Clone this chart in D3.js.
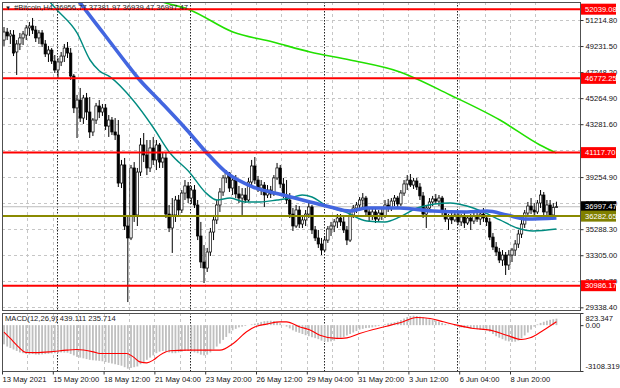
<!DOCTYPE html>
<html>
<head>
<meta charset="utf-8">
<script src="https://cdn.jsdelivr.net/npm/d3@7"></script>
<style>
  html, body { margin: 0; padding: 0; background: #fff; }
  svg { display: block; font-family: "Liberation Sans", Arial, sans-serif; }
</style>
</head>
<body>
<div id="chart"></div>
<script>
// ---- data (BTC H4, 13 May - 10 Jun 2021) ----
const timeLabels = ['13 May 2021', '15 May 20:00', '18 May 12:00', '21 May 04:00', '23 May 20:00',
  '26 May 12:00', '29 May 04:00', '31 May 20:00', '3 Jun 12:00', '6 Jun 04:00', '8 Jun 20:00'];
const timeLabelBars = [0, 16, 32, 48, 64, 80, 96, 112, 128, 144, 160];
const separatorBars = [17, 59, 101, 143];

const priceTicks = [51214.80, 49231.50, 47248.20, 45264.90, 43281.60, 41298.30, 39254.90,
  37271.60, 35288.30, 33305.00, 31321.70, 29338.40];
const redLevels = [52039.08, 46772.25, 41117.70, 30986.17];
const oliveLevel = 36282.65;
const lastPrice = 36997.47;

// [open, high, low, close]
const candles = [
  [49690,50680,49240,50300],[50300,50610,49690,50000],[50000,50450,49390,50150],[50070,50450,48470,48700],
  [48780,49690,47030,49390],[49390,50230,48930,49850],[49850,50380,49310,50150],[50070,50830,49690,50610],
  [50610,51060,50000,50760],[50760,51370,50150,50450],[50450,50760,49540,49850],[49850,50450,49390,50230],
  [50230,50450,49160,49390],[49390,49690,48400,48630],[48630,49240,48020,48930],[48930,49080,47870,48090],
  [48090,48550,47180,47410],[47410,48320,46800,48020],[48020,48780,47710,48470],[48470,49390,48020,49080],
  [49080,49540,48320,48700],[48700,49080,46650,46950],[46950,47100,44130,44520],[44520,45510,42230,45120],
  [45120,46040,43450,43750],[43750,45510,43300,45280],[45280,45660,43600,44210],[44210,45350,42230,42690],
  [42690,43750,42380,43600],[43600,44900,43300,44670],[44670,45120,43750,44210],[44210,44820,43910,44520],
  [44520,44820,42840,43140],[43140,43980,42310,43600],[43600,43830,42460,42690],[42690,43750,42080,42460],
  [42460,43600,38500,38800],[38800,40560,38420,40180],[40180,40710,35230,35530],[35530,36370,29740,34620],
  [34620,40180,34460,39950],[39950,40400,35840,36370],[36370,39950,35530,39640],[39640,42230,39340,41700],
  [41700,42610,40400,40940],[40940,42080,39410,39950],[39950,42080,39640,41470],[41470,42310,40180,40560],
  [40560,42080,39790,41700],[41700,41850,39950,40400],[40400,41170,39950,40710],[40710,41090,36140,36440],
  [36440,37130,35070,35380],[35380,37660,33480,36370],[36370,37820,35840,37510],[37510,37890,36370,36750],
  [36750,38270,36520,38040],[38040,39030,37510,38580],[38580,38880,37280,37660],[37660,38580,37210,38270],
  [38270,38650,36900,37130],[37130,37510,34460,34770],[34770,35840,32330,32790],[32790,34080,31190,32330],
  [32330,33860,32030,33550],[33550,35380,33250,35070],[35070,36370,34460,35990],[35990,37510,35680,37130],
  [37130,38420,36600,38120],[38120,39410,37820,39190],[39190,39790,38800,39570],[39570,39640,38120,38420],
  [38420,39340,37890,39030],[39030,39410,37660,37970],[37970,38580,37280,37660],[37660,38420,36370,37890],
  [37890,38420,37280,37510],[37510,39190,37360,38880],[38880,40560,38650,40100],[40100,40780,38730,39030],
  [39030,39340,38120,38420],[38420,39030,37890,38650],[38650,38880,36980,37890],[37890,38650,37660,38270],
  [38270,38580,37660,37970],[37970,39410,37820,39190],[39190,40330,39030,39950],[39950,40180,38420,38730],
  [38730,39190,37660,37890],[37890,39030,37210,37510],[37510,38040,36140,36440],[36440,36900,35150,35530],
  [35530,37130,35380,36750],[36750,37050,35380,35680],[35680,36370,35380,35990],[35990,36750,35530,36440],
  [36440,37360,36140,36980],[36980,37130,34920,35230],[35230,35530,34390,34620],[34620,35230,33860,34160],
  [34160,34620,33320,33700],[33700,34770,33550,34460],[34460,35530,34240,35300],[35300,35840,34770,35530],
  [35530,36060,35070,35840],[35840,36440,35380,36140],[36140,36440,35530,35840],[35840,36220,35000,35230],
  [35230,35530,34080,34460],[34460,36600,34310,36370],[36370,37130,36140,36900],[36900,37360,36520,37130],
  [37130,37740,36750,37510],[37510,38040,36980,37660],[37660,37820,36290,36600],[36600,36900,35840,36290],
  [36290,36900,35990,36600],[36600,36830,35760,36060],[36060,36750,35840,36520],[36520,36900,35990,36290],
  [36290,37510,36140,37130],[37130,37590,36600,36900],[36900,37660,36670,37430],[37430,37890,37050,37660],
  [37660,37820,36900,37210],[37210,38270,37050,38040],[38040,39030,37820,38730],[38730,39410,38270,39030],
  [39030,39490,38500,38650],[38650,39190,38350,38960],[38960,39190,38270,38500],[38500,38800,37510,37820],
  [37820,38120,36140,36440],[36440,37130,35380,36900],[36900,37660,36600,37360],[37360,37820,37050,37590],
  [37590,37970,37210,37430],[37430,37890,37050,37660],[37660,37820,36370,36600],[36600,36900,35840,36060],
  [36060,36440,35230,36290],[36290,36600,35680,35990],[35990,36520,35840,36370],[36370,36600,35610,35840],
  [35840,36440,35530,36220],[36220,36520,35380,35760],[35760,36370,35610,36140],[36140,36440,35230,35910],
  [35910,36520,35680,36290],[36290,36750,35840,36060],[36060,36600,35610,36440],[36440,36900,35840,36140],
  [36140,36370,35530,35840],[35840,36140,34460,34690],[34690,35000,33700,33930],[33930,34310,33250,33550],
  [33550,33860,32710,32940],[32940,33700,32490,33320],[33320,33550,31800,32560],[32560,33700,32180,33320],
  [33320,33860,32790,33700],[33700,34460,33250,34160],[34160,35230,33860,34920],[34920,35990,34620,35680],
  [35680,36750,35380,36520],[36520,37360,36290,37050],[37050,37660,36440,36750],[36750,37280,36220,36600],
  [36600,37510,36440,37280],[37280,38270,36900,37890],[37890,38120,36290,36600],[36600,37510,36140,37130],
  [37130,37510,35990,36370],[36370,37280,36140,36950],[36956.77,37381.97,36939.47,36997.47]
];

// moving averages, sampled as [bar, price]
const maFast = [[11.3,53500],[13.9,52740],[16.7,51980],[23,50230],[27.1,48170],[30,47350],[33.4,46880],
  [40.6,45120],[46.9,43070],[52.3,41090],[58.6,39570],[63.3,38120],[67.1,37510],[71.2,37660],[75.9,37360],
  [80.6,37360],[86,37510],[90.1,37660],[93.9,37890],[97,37740],[101.7,37050],[107.4,36600],[114.3,35910],
  [120,35840],[124.7,36220],[130.1,36900],[135.7,37210],[140.5,37280],[145.8,37050],[150.9,36600],
  [156.2,35990],[161.6,35380],[166.6,35150],[174,35300]];
const maMid = [[18.3,54410],[23.3,52740],[31.5,50150],[38.7,47870],[42.2,46800],[49.1,45050],[57.6,42840],
  [63.9,41090],[70.2,39570],[78.4,38500],[87.9,37890],[96.4,37360],[102.7,36980],[109,36670],[114.3,36900],
  [124.7,36900],[135.1,36670],[145.8,36600],[152.1,36670],[158.4,36370],[164.7,36060],[174,36140]];
const maSlow = [[46,52970],[48.2,52740],[58.6,51980],[72.1,50300],[84.7,49540],[96.4,48780],[109,48170],
  [124.7,47260],[140.5,45510],[156.2,43600],[168.8,41700],[174,41090]];

// MACD(12,26,9): main as histogram (one per bar), signal sampled as [bar, value]
const macdHist = [
  -1300,-1450,-1550,-1650,-1750,-1850,-1900,-1950,-1980,-1960,-1990,-2000,-1980,-1960,-1940,-1920,
  -1900,-1880,-1850,-1860,-1870,-1950,-2050,-2150,-2200,-2250,-2300,-2350,-2380,-2400,-2420,-2450,
  -2500,-2550,-2600,-2650,-2700,-2750,-2850,-2950,-2900,-2850,-2800,-2650,-2500,-2350,-2200,-2050,-1900,
  -1800,-1750,-1800,-1850,-1900,-1900,-1850,-1800,-1750,-1750,-1800,-1850,-1900,-2000,-2050,
  -2000,-1850,-1650,-1450,-1250,-1000,-800,-550,-350,-250,-150,-100,-50,0,50,
  100,150,220,270,290,300,280,220,130,20,-100,-220,-350,-450,
  -520,-600,-680,-750,-820,-880,-950,-1050,-1100,-1130,-1100,-1050,
  -950,-850,-800,-700,-600,-500,-400,-300,-250,-200,-180,-150,-100,-60,-20,
  60,120,160,200,250,350,450,550,620,640,620,580,520,450,400,350,300,230,
  150,80,30,0,-50,-100,-150,-180,-200,-230,-250,-280,-300,-320,-350,
  -450,-600,-750,-850,-950,-1050,-1100,-1130,-1120,-1050,-900,-700,-500,-300,-100,
  50,150,230,300,360,400,439.111
];
const macdSignal = [[0,-470],[2,-900],[4,-1350],[7,-1850],[10,-1860],[14.5,-1810],[19.7,-1695],[22.9,-1650],
  [28.1,-1810],[30.2,-1920],[34.3,-1920],[38.6,-1920],[40.7,-2150],[42.8,-2490],[45,-2555],[47,-2370],
  [49.1,-2030],[52.3,-1740],[57.5,-1695],[63.8,-1695],[68,-1695],[72.2,-1240],[76.4,-450],[79.6,-70],
  [82.7,70],[86.9,225],[89,225],[93.2,-120],[96.4,-330],[99.5,-680],[104.8,-900],[108,-860],[112,-565],
  [116.3,-290],[120.5,-70],[124.7,160],[130,520],[134.2,450],[138.4,225],[142.6,0],[147.8,-225],
  [153.1,-340],[158.3,-680],[163,-970],[165.7,-860],[169.9,-340],[174,235.714]];
const macdTicks = [823.347, 0, -3108.319];
const macdTickLabels = ['823.347', '0.00', '-3108.319'];

(function () {
  'use strict';

  const W = 620, H = 388;
  const L = 2, R = 580;                 // plot area left / right (axis line)
  const PT = 2, PB = 310;               // price panel
  const MT = 313, MB = 371;             // macd panel
  const FONT = 7.6;

  const x = d3.scaleLinear().domain([0, 174]).range([4, 556.45]);
  const y = d3.scaleLinear().domain([29135, 52510]).range([PB, 3]);
  const ym = d3.scaleLinear().domain([-3108.319, 823.347]).range([MB, MT]);

  const svg = d3.select('#chart').append('svg')
    .attr('width', W).attr('height', H)
    .style('font-size', FONT + 'px');

  const defs = svg.append('defs');
  defs.append('clipPath').attr('id', 'clip-price')
    .append('rect').attr('x', L).attr('y', PT).attr('width', R - L).attr('height', PB - PT);
  defs.append('clipPath').attr('id', 'clip-macd')
    .append('rect').attr('x', L).attr('y', MT).attr('width', R - L).attr('height', MB - MT);

  // ---- grid ----
  const grid = svg.append('g').attr('stroke', '#c6c6c6').attr('stroke-width', 1)
    .attr('stroke-dasharray', '3,3').attr('fill', 'none');
  grid.selectAll('line.h').data(priceTicks).join('line')
    .attr('x1', L).attr('x2', R)
    .attr('y1', d => Math.round(y(d)) + 0.5).attr('y2', d => Math.round(y(d)) + 0.5);
  const vBars = d3.range(0, 175, 8);
  [[PT, PB], [MT, MB]].forEach(([t, b]) => {
    grid.append('g').selectAll('line').data(vBars).join('line')
      .attr('x1', d => Math.round(x(d) - 2) + 0.5).attr('x2', d => Math.round(x(d) - 2) + 0.5)
      .attr('y1', t).attr('y2', b);
  });

  // week separators (dark dotted)
  const sep = svg.append('g').attr('stroke', '#222').attr('stroke-dasharray', '1.5,1.5');
  [[PT, PB], [MT, MB]].forEach(([t, b]) => {
    sep.append('g').selectAll('line').data(separatorBars).join('line')
      .attr('x1', d => Math.round(x(d) - 1) + 0.5).attr('x2', d => Math.round(x(d) - 1) + 0.5)
      .attr('y1', t).attr('y2', b);
  });

  // ---- price panel ----
  const price = svg.append('g').attr('clip-path', 'url(#clip-price)');

  // bid line
  price.append('line').attr('x1', L).attr('x2', R)
    .attr('y1', y(lastPrice)).attr('y2', y(lastPrice))
    .attr('stroke', '#bdbdbd').attr('stroke-width', 1);

  // candles
  const cg = price.append('g').selectAll('g').data(candles).join('g');
  cg.append('line')
    .attr('x1', (d, i) => x(i)).attr('x2', (d, i) => x(i))
    .attr('y1', d => y(d[1])).attr('y2', d => y(d[2]))
    .attr('stroke', '#000').attr('stroke-width', 1);
  cg.append('rect')
    .attr('x', (d, i) => x(i) - 1.2)
    .attr('width', 2.4)
    .attr('y', d => y(Math.max(d[0], d[3])))
    .attr('height', d => Math.max(0.8, Math.abs(y(d[0]) - y(d[3]))))
    .attr('fill', d => d[3] >= d[0] ? '#fff' : '#000')
    .attr('stroke', '#000').attr('stroke-width', 0.7);

  // moving averages
  const maLine = d3.line().x(d => x(d[0])).y(d => y(d[1])).curve(d3.curveMonotoneX);
  price.append('path').datum(maSlow).attr('d', maLine)
    .attr('fill', 'none').attr('stroke', '#22e000').attr('stroke-width', 1.6);
  price.append('path').datum(maFast).attr('d', maLine)
    .attr('fill', 'none').attr('stroke', '#008b80').attr('stroke-width', 1.4);
  price.append('path').datum(maMid).attr('d', maLine)
    .attr('fill', 'none').attr('stroke', '#4366e0').attr('stroke-width', 3.6)
    .attr('stroke-linejoin', 'round');

  // horizontal levels
  price.append('g').selectAll('line').data(redLevels).join('line')
    .attr('x1', L).attr('x2', R)
    .attr('y1', d => y(d)).attr('y2', d => y(d))
    .attr('stroke', '#ff0000').attr('stroke-width', 2);
  price.append('line').attr('x1', L).attr('x2', R)
    .attr('y1', y(oliveLevel)).attr('y2', y(oliveLevel))
    .attr('stroke', '#8a8a00').attr('stroke-width', 2);

  // header
  const last = candles[candles.length - 1];
  svg.append('text').attr('x', 5).attr('y', 10).attr('fill', '#222')
    .style('font-size', '6px').text('\u25BC');
  svg.append('text').attr('x', 14).attr('y', 10).attr('fill', '#222')
    .text('#Bitcoin,H4  ' + last.map(v => v.toFixed(2)).join(' '));

  // ---- macd panel ----
  const macd = svg.append('g').attr('clip-path', 'url(#clip-macd)');
  macd.append('g').selectAll('rect').data(macdHist).join('rect')
    .attr('x', (d, i) => x(i) - 0.9).attr('width', 1.8)
    .attr('y', d => Math.min(ym(0), ym(d)))
    .attr('height', d => Math.abs(ym(d) - ym(0)))
    .attr('fill', '#bfbfbf');
  macd.append('path').datum(macdSignal)
    .attr('d', d3.line().x(d => x(d[0])).y(d => ym(d[1])).curve(d3.curveMonotoneX))
    .attr('fill', 'none').attr('stroke', '#ff0000').attr('stroke-width', 1.1);
  svg.append('text').attr('x', 5).attr('y', 321).attr('fill', '#222')
    .text('MACD(12,26,9) ' + macdHist[macdHist.length - 1].toFixed(3) + ' ' +
      macdSignal[macdSignal.length - 1][1].toFixed(3));

  // ---- frames ----
  const frame = svg.append('g').attr('fill', 'none').attr('stroke', '#505050').attr('stroke-width', 1);
  frame.append('rect').attr('x', L + 0.5).attr('y', PT + 0.5).attr('width', R - L).attr('height', PB - PT);
  frame.append('rect').attr('x', L + 0.5).attr('y', MT + 0.5).attr('width', R - L).attr('height', MB - MT);

  // ---- axes ----
  const styleAxis = g => {
    g.select('.domain').remove();
    g.selectAll('line').attr('stroke', '#333');
    g.selectAll('text').attr('fill', '#111').style('font-size', FONT + 'px')
      .style('font-family', '"Liberation Sans", Arial, sans-serif');
  };

  const tagged = redLevels.concat([lastPrice, oliveLevel]);
  svg.append('g').attr('transform', `translate(${R + 0.5},0)`)
    .call(d3.axisRight(y).tickValues(priceTicks).tickFormat(d3.format('.2f')).tickSize(3).tickPadding(2))
    .call(styleAxis)
    // a tick label sitting right under a coloured price tag is fully covered in the reference
    .call(g => g.selectAll('.tick text')
      .filter(d => tagged.some(v => Math.abs(y(v) - y(d)) < 3)).remove());

  svg.append('g').attr('transform', `translate(${R + 0.5},0)`)
    .call(d3.axisRight(ym).tickValues(macdTicks).tickFormat((d, i) => macdTickLabels[i]).tickSize(3).tickPadding(2))
    .call(styleAxis)
    .call(g => g.selectAll('.tick text').attr('dy', (d, i) => i === 0 ? '0.95em' : i === 2 ? '-0.35em' : '0.32em'));

  svg.append('g').attr('transform', `translate(-2,${MB + 0.5})`)
    .call(d3.axisBottom(x).tickValues(timeLabelBars).tickFormat((d, i) => timeLabels[i]).tickSize(3).tickPadding(2))
    .call(styleAxis)
    .call(g => g.selectAll('.tick text').attr('text-anchor', 'start').attr('x', 0));

  // ---- price labels on the right ----
  const tag = (v, fill) => {
    const g = svg.append('g').attr('transform', `translate(${R + 1},${y(v)})`);
    g.append('rect').attr('x', 0).attr('y', -5.5).attr('width', 35).attr('height', 11).attr('fill', fill);
    g.append('text').attr('x', 4).attr('dy', '0.34em').attr('fill', '#fff').text(v.toFixed(2));
  };
  redLevels.forEach(v => tag(v, '#ff0000'));
  tag(lastPrice, '#000000');
  tag(oliveLevel, '#808000');
})();
</script>
</body>
</html>
